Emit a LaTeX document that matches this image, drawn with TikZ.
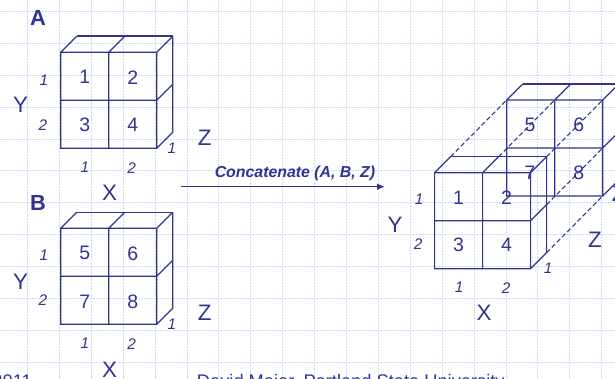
\documentclass[tikz,border=0pt]{standalone}
\usepackage{fontspec}
\setmainfont{Liberation Sans}
\usetikzlibrary{arrows.meta}
\definecolor{navy}{RGB}{50,50,145}
\definecolor{gridc}{RGB}{204,216,250}
\newcommand\cubeframe[1]{%
  \draw[ln] (0,0) rectangle (96,96) (48,0)--(48,96) (0,48)--(96,48)
    (0,0)--(16,-16) (48,0)--(64,-16) (96,0)--(112,-16)
    (112,-16)--(112,80) (96,48)--(112,32) (96,96)--(112,80);
  \draw[ln,#1] (16,-16)--(112,-16);}
\begin{document}
\begin{tikzpicture}[x=0.75pt,y=-0.75pt,
  ln/.style={draw=navy,line width=0.9pt},
  dsh/.style={draw=navy,line width=0.8pt,dash pattern=on 3.5pt off 2pt},
  gridline/.style={draw=gridc,line width=0.75pt,dash pattern=on 1.6pt off 0.8pt},
  num/.style={text=navy,font=\fontsize{14.6}{16}\selectfont,inner sep=0pt},
  ax/.style={text=navy,font=\fontsize{16.8}{18}\selectfont,inner sep=0pt},
  idx/.style={text=navy,font=\fontsize{11.5}{13}\selectfont\itshape,inner sep=0pt},
  ttl/.style={text=navy,font=\fontsize{16.4}{18}\selectfont\bfseries,inner sep=0pt},
  foot/.style={text=navy,font=\fontsize{13.7}{15}\selectfont,inner sep=0pt}]
\useasboundingbox (0,0) rectangle (615,379);
% background grid
\foreach \k in {0,...,18} \draw[gridline] ({27.5+31.9*\k},0) -- ({27.5+31.9*\k},379);
\foreach \k in {0,...,11} \draw[gridline] (0,{11.7+31.85*\k}) -- (615,{11.7+31.85*\k});

% ---- cube A ----
\node[ttl] (tA) at (38,18) {A};
\begin{scope}[shift={(60.7,52.3)}]
  \cubeframe{line width=1.4pt}
  \node[num] (a1) at (24,25) {1};
  \node[num] (a2) at (72,25) {2};
  \node[num] (a3) at (24,72.5) {3};
  \node[num] (a4) at (72,72.5) {4};
  \node[ax] (aY) at (-40,52.7) {Y};
  \node[idx] (ay1) at (-16.7,27.7) {1};
  \node[idx] (ay2) at (-17.7,72.7) {2};
  \node[ax] (aZ) at (144,85) {Z};
  \node[idx] (az1) at (111.3,95.7) {1};
  \node[idx] (ax1) at (24.3,115) {1};
  \node[idx] (ax2) at (71,116) {2};
  \node[ax] (aX) at (49,140) {X};
\end{scope}

% ---- cube B ----
\node[ttl] (tB) at (38,203) {B};
\begin{scope}[shift={(60.7,228.3)}]
  \cubeframe{}
  \node[num] (b5) at (24,25) {5};
  \node[num] (b6) at (72,25) {6};
  \node[num] (b7) at (24,73) {7};
  \node[num] (b8) at (72,73) {8};
  \node[ax] (bY) at (-40,53.7) {Y};
  \node[idx] (by1) at (-16.7,26.7) {1};
  \node[idx] (by2) at (-17.7,71.7) {2};
  \node[ax] (bZ) at (144,84.7) {Z};
  \node[idx] (bz1) at (111.3,95.7) {1};
  \node[idx] (bx1) at (24.3,115) {1};
  \node[idx] (bx2) at (71,115.5) {2};
  \node[ax] (bX) at (49,141.7) {X};
\end{scope}

% ---- arrow ----
\coordinate (arrS) at (181,186.7);
\coordinate (arrE) at (385,186.7);
\draw[navy,line width=1pt,-{Latex[length=6pt,width=5pt]}] (arrS) -- (arrE);
\node[text=navy,font=\fontsize{11.9}{14}\selectfont\bfseries\itshape,inner sep=0pt] (lbl) at (295,173) {Concatenate (A, B, Z)};

% ---- result: back cube ----
\begin{scope}[shift={(506.7,100)}]
  \cubeframe{line width=1.4pt}
  \coordinate (bTL) at (0,0);
  \coordinate (bTM) at (48,0);
  \coordinate (bTR) at (96,0);
  \coordinate (bRM) at (96,48);
  \coordinate (bRB) at (96,96);
  \node[num] (r5) at (23.3,25) {5};
  \node[num] (r6) at (72,25) {6};
  \node[num] (r7) at (23.3,73) {7};
  \node[num] (r8) at (72,73) {8};
  \node[ax] (rZ2) at (112,94) {Z};
\end{scope}

% ---- result: front cube ----
\begin{scope}[shift={(434.6,172.7)}]
  \cubeframe{}
  \coordinate (fTL) at (16,-16);
  \coordinate (fTM) at (64,-16);
  \coordinate (fTR) at (112,-16);
  \coordinate (fRM) at (112,32);
  \coordinate (fRB) at (112,80);
  \node[num] (r1) at (24,25) {1};
  \node[num] (r2) at (72,25) {2};
  \node[num] (r3) at (24,72.5) {3};
  \node[num] (r4) at (72,72.5) {4};
  \node[ax] (rY) at (-39.5,52.3) {Y};
  \node[idx] (ry1) at (-15.5,26.3) {1};
  \node[idx] (ry2) at (-16.5,71.3) {2};
  \node[ax] (rZ) at (160.4,67.3) {Z};
  \node[idx] (rz1) at (113.5,95.3) {1};
  \node[idx] (rx1) at (24.5,115) {1};
  \node[idx] (rx2) at (71.5,115) {2};
  \node[ax] (rX) at (49.5,140) {X};
\end{scope}

% dashed connectors
\draw[dsh] (fTL) -- (bTL);
\draw[dsh] (fTM) -- (bTM);
\draw[dsh] (fTR) -- (bTR);
\draw[dsh] (fRM) -- (bRM);
\draw[dsh] (fRB) -- (bRB);

% footer (cut by the page edge)
\node[foot,anchor=base east] (f1) at (32,387.3) {2011};
\node[foot,anchor=base west] (f2) at (196.7,387.3) {David Maier, Portland State University};
\end{tikzpicture}
\end{document}
